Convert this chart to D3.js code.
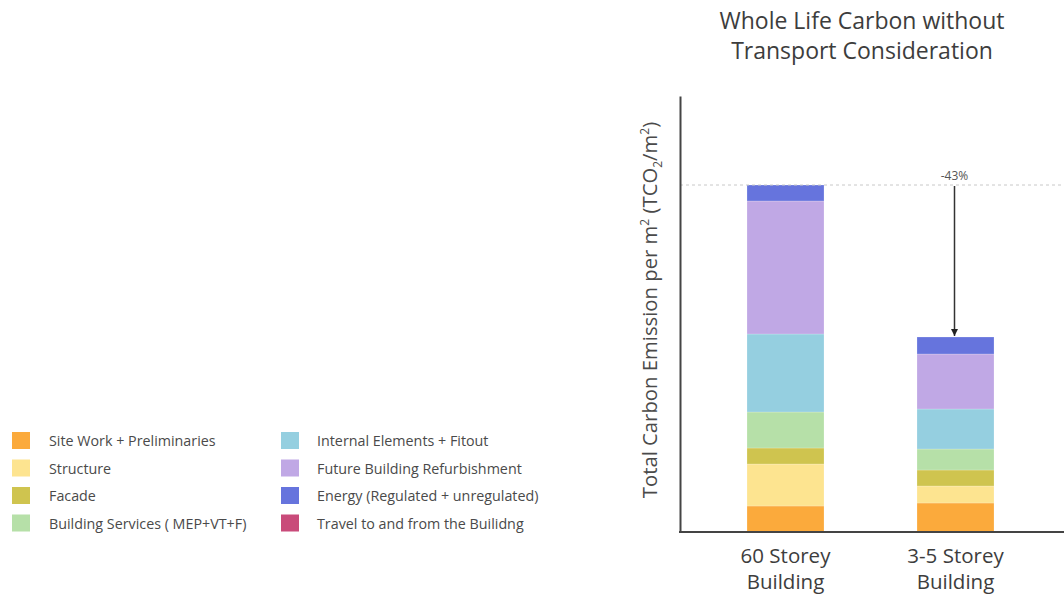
<!DOCTYPE html>
<html>
<head>
<meta charset="utf-8">
<script src="https://cdn.jsdelivr.net/npm/d3@7"></script>
<style>
  html, body { margin: 0; padding: 0; background: #fff; }
  svg { display: block; font-family: "Open Sans", sans-serif; }
</style>
</head>
<body>
<svg id="chart" width="1064" height="594"></svg>
<script>
// buildings on the x axis
const buildings = ['60 Storey Building', '3-5 Storey Building'];

// stack components, bottom to top
const components = [
  'Site Work + Preliminaries',
  'Structure',
  'Facade',
  'Building Services ( MEP+VT+F)',
  'Internal Elements + Fitout',
  'Future Building Refurbishment',
  'Energy (Regulated + unregulated)',
  'Travel to and from the Builidng'
];

const colors = ['#fbaa3c', '#fde490', '#cfc44f', '#b6e0a8', '#95cfe0', '#c0a8e5', '#6674dd', '#c94b7a'];

// TCO2/m2
const tallValues = [0.26, 0.42, 0.16, 0.36, 0.78, 1.33, 0.16, 0];
const lowValues  = [0.29, 0.17, 0.16, 0.21, 0.40, 0.55, 0.17, 0];

const yMax = 4.36;
const changeLabel = '-43%';

const svg = d3.select('#chart');

const x = d3.scaleBand()
  .domain(buildings)
  .range([700.5, 1040.5])
  .paddingInner(0.547)
  .paddingOuter(0.2735);

const y = d3.scaleLinear()
  .domain([0, yMax])
  .range([532, 96]);

const rows = buildings.map((b, i) => {
  const vals = i === 0 ? tallValues : lowValues;
  const r = { building: b };
  components.forEach((c, j) => r[c] = vals[j]);
  return r;
});

const series = d3.stack().keys(components)(rows);

// bars
svg.append('g')
  .selectAll('g')
  .data(series)
  .join('g')
    .attr('fill', (d, i) => colors[i])
  .selectAll('rect')
  .data(d => d)
  .join('rect')
    .attr('x', d => x(d.data.building))
    .attr('width', x.bandwidth())
    .attr('y', d => y(d[1]))
    .attr('height', d => y(d[0]) - y(d[1]))
    .attr('stroke', '#ffffff')
    .attr('stroke-opacity', 0.35)
    .attr('stroke-width', 0.6);

const totals = rows.map(r => d3.sum(components, c => r[c]));

// dashed reference line at the tall building total
svg.append('line')
  .attr('x1', 680).attr('x2', 1064)
  .attr('y1', y(totals[0])).attr('y2', y(totals[0]))
  .attr('stroke', '#c8c8c8')
  .attr('stroke-width', 1)
  .attr('stroke-dasharray', '3,3');

// arrow
svg.append('defs').append('marker')
  .attr('id', 'arrow')
  .attr('viewBox', '0 0 10 10')
  .attr('refX', 10).attr('refY', 5)
  .attr('markerWidth', 7).attr('markerHeight', 7)
  .attr('markerUnits', 'userSpaceOnUse')
  .attr('orient', 'auto')
  .append('path')
    .attr('d', 'M0,0 L10,5 L0,10 z')
    .attr('fill', '#222');

const ax = x(buildings[1]) + x.bandwidth() / 2 - 1;
svg.append('line')
  .attr('x1', ax).attr('x2', ax)
  .attr('y1', y(totals[0]) + 1)
  .attr('y2', y(totals[1]) - 1)
  .attr('stroke', '#333')
  .attr('stroke-width', 1.5)
  .attr('marker-end', 'url(#arrow)');

svg.append('text')
  .attr('x', ax)
  .attr('y', y(totals[0]) - 5)
  .attr('text-anchor', 'middle')
  .attr('fill', '#555')
  .style('font-size', '12px')
  .text(changeLabel);

// axes
svg.append('g')
  .attr('transform', 'translate(680,0)')
  .call(d3.axisLeft(y).tickValues([]).tickSizeOuter(0))
  .call(g => g.select('.domain').attr('stroke', '#444').attr('stroke-width', 2));

svg.append('line')
  .attr('x1', 679).attr('x2', 1064)
  .attr('y1', y(0)).attr('y2', y(0))
  .attr('stroke', '#444')
  .attr('stroke-width', 2);

// x labels
const xl = svg.append('g');
buildings.forEach(b => {
  const words = b.split(' ');
  const t = xl.append('text')
    .attr('x', x(b) + x.bandwidth() / 2)
    .attr('text-anchor', 'middle')
    .attr('fill', '#3d3d3d')
    .style('font-size', '20.5px');
  t.append('tspan').attr('x', x(b) + x.bandwidth() / 2).attr('y', 563).text(words.slice(0, 2).join(' '));
  t.append('tspan').attr('x', x(b) + x.bandwidth() / 2).attr('y', 589).text(words.slice(2).join(' '));
});

// y label
const yl = svg.append('text')
  .attr('transform', 'translate(657,310) rotate(-90)')
  .attr('text-anchor', 'middle')
  .attr('fill', '#4a4a4a')
  .style('font-size', '20.3px');
yl.append('tspan').text('Total Carbon Emission per m');
yl.append('tspan').attr('dy', -8).style('font-size', '12px').text('2');
yl.append('tspan').attr('dy', 8).text(' (TCO');
yl.append('tspan').attr('dy', 5).style('font-size', '12px').text('2');
yl.append('tspan').attr('dy', -5).text('/m');
yl.append('tspan').attr('dy', -8).style('font-size', '12px').text('2');
yl.append('tspan').attr('dy', 8).text(')');

// title
const title = svg.append('text')
  .attr('text-anchor', 'middle')
  .attr('fill', '#3d3d3d')
  .style('font-size', '23px');
title.append('tspan').attr('x', 862).attr('y', 29).text('Whole Life Carbon without');
title.append('tspan').attr('x', 862).attr('y', 59).text('Transport Consideration');

// legend
const legend = svg.append('g');
components.forEach((c, i) => {
  const col = Math.floor(i / 4), row = i % 4;
  const lx = col === 0 ? 12 : 281;
  const ly = 441 + row * 27.5;
  legend.append('rect')
    .attr('x', lx).attr('y', ly - 9)
    .attr('width', 18).attr('height', 17)
    .attr('fill', colors[i]);
  legend.append('text')
    .attr('x', col === 0 ? 49 : 317)
    .attr('y', ly + 5)
    .attr('fill', '#4a4a4a')
    .style('font-size', '14.3px')
    .text(c);
});
</script>
</body>
</html>
